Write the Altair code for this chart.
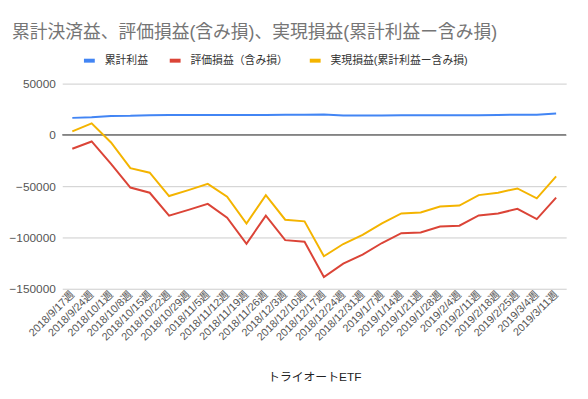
import altair as alt
import pandas as pd

weeks = ["2018/9/17週", "2018/9/24週", "2018/10/1週", "2018/10/8週", "2018/10/15週",
         "2018/10/22週", "2018/10/29週", "2018/11/5週", "2018/11/12週", "2018/11/19週",
         "2018/11/26週", "2018/12/3週", "2018/12/10週", "2018/12/17週", "2018/12/24週",
         "2018/12/31週", "2019/1/7週", "2019/1/14週", "2019/1/21週", "2019/1/28週",
         "2019/2/4週", "2019/2/11週", "2019/2/18週", "2019/2/25週", "2019/3/4週",
         "2019/3/11週"]

cumulative = [16600, 17300, 18500, 18600, 19200, 19300, 19300, 19300, 19400, 19500,
              19500, 19600, 19700, 19800, 19000, 18900, 18900, 19100, 19200, 19200,
              19200, 19200, 19500, 19600, 19700, 20800]
unrealized = [-13500, -6400, -28200, -51300, -56400, -78800, -73100, -67300, -80800, -106100,
              -78800, -102600, -104200, -138500, -125600, -116700, -105400, -95800, -95200, -89400,
              -88500, -78500, -76600, -72100, -82100, -61200]
realized = [3500, 11200, -7400, -32400, -36900, -59600, -53800, -47800, -60300, -86500,
            -58700, -82700, -84300, -118300, -106400, -97400, -86300, -76600, -75700, -69900,
            -68900, -58700, -56400, -52200, -61900, -40400]

series_names = ["累計利益", "評価損益（含み損）", "実現損益(累計利益ー含み損)"]
series_colors = ["#4285F4", "#DB4437", "#F4B400"]

rows = []
for name, vals in zip(series_names, [cumulative, unrealized, realized]):
    for w, v in zip(weeks, vals):
        rows.append({"week": w, "value": v, "series": name})
df = pd.DataFrame(rows)

FONT = "Arial, 'Liberation Sans', 'Noto Sans CJK JP', sans-serif"

lines = alt.Chart(df).mark_line(strokeWidth=2).encode(
    x=alt.X("week:N", sort=weeks,
            scale=alt.Scale(type="point", padding=0.52),
            axis=alt.Axis(title="トライオートETF", labelAngle=-45, labelAlign="right",
                          labelBaseline="middle", labelFontSize=11,
                          labelColor="#555", titleFontSize=12, titleColor="#222",
                          titleFontWeight="normal", domain=False, ticks=False,
                          labelPadding=4, titlePadding=30, grid=False,
                          labelFont=FONT, titleFont=FONT, labelOverlap=False)),
    y=alt.Y("value:Q",
            scale=alt.Scale(domain=[-150000, 50000], nice=False),
            axis=alt.Axis(title=None, values=[-150000, -100000, -50000, 0, 50000],
                          format="d", labelFontSize=12, labelColor="#555",
                          domain=False, ticks=False, labelPadding=7,
                          gridColor="#cccccc", labelFont=FONT)),
    color=alt.Color("series:N", sort=series_names,
                    scale=alt.Scale(domain=series_names, range=series_colors),
                    legend=alt.Legend(title=None, orient="none", direction="horizontal",
                                      legendX=20, legendY=-31,
                                      symbolType="stroke", symbolStrokeWidth=4,
                                      symbolSize=121, labelFontSize=11,
                                      labelColor="#333", labelOffset=8,
                                      columnPadding=14, labelFont=FONT,
                                      labelLimit=300)),
)

zero = alt.Chart(pd.DataFrame({"z": [0]})).mark_rule(color="#333333", strokeWidth=1).encode(
    y="z:Q"
)

chart = alt.layer(zero, lines).properties(
    width=511, height=208,
    title=alt.TitleParams("累計決済益、評価損益(含み損)、実現損益(累計利益ー含み損)",
                          anchor="start", frame="group", fontSize=18, fontWeight="normal",
                          color="#757575", font=FONT, dx=-51, dy=-7),
    padding={"left": 55, "top": 74, "right": 14, "bottom": 100},
    autosize=alt.AutoSizeParams(type="none"),
).configure_view(stroke=None)

chart.save("out.html", embed_options={"renderer": "svg", "actions": False})
